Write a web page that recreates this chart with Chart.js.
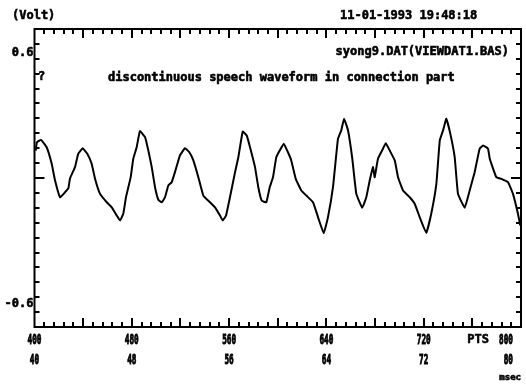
<!DOCTYPE html>
<html>
<head>
<meta charset="utf-8">
<script src="https://cdn.jsdelivr.net/npm/chart.js@4/dist/chart.umd.min.js"></script>
<style>
  html, body { margin: 0; padding: 0; background: #fff; }
</style>
</head>
<body>
<canvas id="wave" width="526" height="384"></canvas>
<script>
// sample index (PTS) and amplitude (Volt)
var samplePts = [401, 402, 405.3, 410, 414.1, 416.9, 421, 425.1, 427.8, 429.2, 433.3, 436, 439.6, 443.4, 447, 449.7,
  453.9, 459.4, 463.5, 467.6, 470.3, 473, 475.2, 479.1, 481.2, 484, 486.7, 490.9, 493.6, 496.4, 499.1, 501.8,
  504.6, 507.3, 510, 512.8, 515.5, 519.6, 523.7, 527.3, 530.6, 534.7, 538.8, 544.3, 548.4, 552.5, 554.7, 557.5,
  560.7, 564.9, 567.6, 571.2, 574.5, 577.2, 581.3, 584, 586.8, 590.6, 593.4, 596.1, 598.8, 601.6, 604.9, 608.4,
  611.1, 614.8, 619.4, 623.5, 629, 633.1, 637.8, 641.3, 645.4, 649.5, 652.2, 654.5, 657.8, 661.3, 664.6, 669.5,
  672.8, 675.6, 678.3, 679.7, 682.4, 686.5, 688.8, 692.1, 696.2, 698.9, 703, 708.5, 712.6, 716.7, 722.1, 726.2,
  730.4, 733.2, 735.9, 738.6, 741.9, 745.5, 748.2, 753.7, 757.8, 761.9, 766, 768.8, 772.9, 774.3, 779.7, 783.8,
  789.3, 793.4, 797.5, 799.4];
var volts = [0.131, 0.170, 0.182, 0.147, 0.069, -0.012, -0.092, -0.068, -0.050, -0.002, 0.052, 0.116, 0.142, 0.116, 0.068, -0.002,
  -0.076, -0.116, -0.140, -0.179, -0.203, -0.171, -0.092, 0.004, 0.092, 0.147, 0.224, 0.195, 0.131, 0.052, -0.044, -0.104,
  -0.116, -0.092, -0.036, -0.020, 0.028, 0.108, 0.142, 0.123, 0.084, 0.004, -0.084, -0.116, -0.140, -0.179, -0.203, -0.179,
  -0.092, 0.028, 0.099, 0.222, 0.203, 0.147, 0.052, -0.044, -0.108, -0.116, -0.044, 0.004, 0.099, 0.131, 0.164, 0.123,
  0.084, -0.004, -0.060, -0.084, -0.116, -0.187, -0.264, -0.187, -0.044, 0.187, 0.227, 0.283, 0.227, 0.092, -0.076, -0.142,
  -0.092, -0.012, 0.052, 0.004, 0.092, 0.140, 0.166, 0.131, 0.084, 0.004, -0.060, -0.092, -0.123, -0.187, -0.262, -0.171,
  -0.028, 0.179, 0.227, 0.283, 0.211, 0.099, -0.076, -0.142, -0.060, 0.028, 0.140, 0.155, 0.140, 0.092, 0.004, -0.004,
  -0.020, -0.076, -0.171, -0.227];

var ptsTicks = [400, 480, 560, 640, 720, 800];
var msecTicks = [40, 48, 56, 64, 72, 80];
var voltTicks = [0.6, -0.6];
var voltTickLabels = ['0.6', '-0.6'];

var FONT = "bold 12px 'DejaVu Sans Mono'";

// fake heavier plotter text: fill + thin stroke
function heavyText(ctx, s, x, y) {
  ctx.fillText(s, x, y);
  ctx.strokeText(s, x, y);
}

// frame, inward tick marks and all the text of the old plotter page
var framePlugin = {
  id: 'frame',
  afterDraw: function (chart) {
    var ctx = chart.ctx;
    var a = chart.chartArea;
    var xs = chart.scales.x, ys = chart.scales.y;
    ctx.save();
    ctx.strokeStyle = '#000';
    ctx.fillStyle = '#000';
    ctx.lineWidth = 2;
    ctx.strokeRect(a.left, a.top, a.right - a.left, a.bottom - a.top);

    ctx.beginPath();
    for (var v = 408; v < 800; v += 8) {
      var px = Math.round(xs.getPixelForValue(v));
      var len = (v % 40 === 0) ? 9 : 5;
      ctx.moveTo(px, a.bottom); ctx.lineTo(px, a.bottom - len);
      ctx.moveTo(px, a.top); ctx.lineTo(px, a.top + len);
    }
    var step = ys.max / 10;
    for (var k = -9; k <= 9; k++) {
      var py = Math.round(ys.getPixelForValue(k * step));
      var l = (k === 0) ? 10 : 5;
      ctx.moveTo(a.left, py); ctx.lineTo(a.left + l, py);
      ctx.moveTo(a.right, py); ctx.lineTo(a.right - l, py);
    }
    ctx.stroke();

    ctx.font = FONT;
    ctx.lineWidth = 0.6;
    ctx.textBaseline = 'middle';
    ctx.textAlign = 'left';
    heavyText(ctx, '(Volt)', 12, 16);
    heavyText(ctx, '11-01-1993 19:48:18', 340, 16);
    ctx.textAlign = 'right';
    heavyText(ctx, 'syong9.DAT(VIEWDAT1.BAS)', 509, 52);
    ctx.textAlign = 'left';
    heavyText(ctx, '?', 38, 77);
    heavyText(ctx, 'discontinuous speech waveform in connection part', 108, 78);

    // y labels
    ctx.textAlign = 'right';
    for (var i = 0; i < voltTicks.length; i++) {
      heavyText(ctx, voltTickLabels[i], a.left - 1, ys.getPixelForValue(voltTicks[i]));
    }

    // x labels: narrow tall digits, two rows (PTS / msec)
    ctx.font = "bold 14px 'DejaVu Sans Mono'";
    for (var j = 0; j < ptsTicks.length; j++) {
      var x = xs.getPixelForValue(ptsTicks[j]);
      var last = j === ptsTicks.length - 1;
      ctx.save();
      ctx.translate(last ? 513 : x, 0);
      ctx.scale(0.55, 1);
      ctx.lineWidth = 1;
      ctx.textAlign = last ? 'right' : 'center';
      heavyText(ctx, String(ptsTicks[j]), 0, 340);
      heavyText(ctx, String(msecTicks[j]), 0, 360);
      ctx.restore();
    }
    ctx.font = FONT;
    ctx.textAlign = 'right';
    heavyText(ctx, 'PTS', 489, 340);
    ctx.font = "bold 9px 'DejaVu Sans Mono'";
    heavyText(ctx, 'msec', 521, 378);
    ctx.restore();
  }
};

var points = samplePts.map(function (p, i) { return { x: p, y: volts[i] }; });

new Chart(document.getElementById('wave').getContext('2d'), {
  type: 'line',
  data: {
    datasets: [{
      data: points,
      borderColor: '#000',
      borderWidth: 2,
      pointRadius: 0,
      tension: 0.1,
      fill: false
    }]
  },
  options: {
    responsive: false,
    animation: false,
    layout: { padding: { left: 34.5, right: 5, top: 29, bottom: 57 } },
    plugins: { legend: { display: false }, tooltip: { enabled: false } },
    scales: {
      x: { type: 'linear', min: 400, max: 800, display: false },
      y: { type: 'linear', min: -0.712, max: 0.712, display: false }
    }
  },
  plugins: [framePlugin]
});
</script>
</body>
</html>
